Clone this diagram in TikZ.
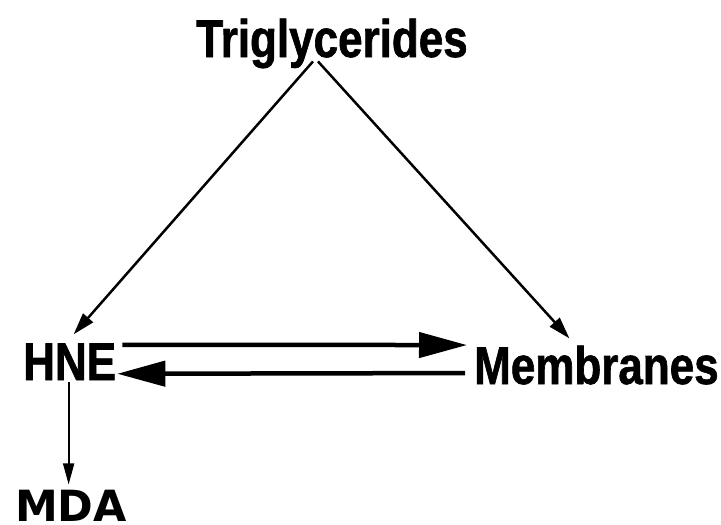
\documentclass[tikz,border=0pt]{standalone}
\usepackage{fontspec}
\usetikzlibrary{arrows.meta,calc}
\newfontfamily\lblfont[FakeStretch=0.83,FakeBold=1.2]{Liberation Sans}
\newfontfamily\mdafont{DejaVu Sans}
\begin{document}
\begin{tikzpicture}[x=1pt,y=-1pt,
  lbl/.style={inner sep=0pt,font=\lblfont\bfseries\fontsize{53}{60}\selectfont},
  mdalbl/.style={inner sep=0pt,font=\mdafont\bfseries\fontsize{43}{50}\selectfont},
  diag/.style={line width=2.5pt,-{Triangle[length=22pt,width=13pt]}},
  thick arrow/.style={line width=4.5pt,-{Triangle[length=48pt,width=25pt]}},
  down/.style={line width=1.8pt,-{Triangle[length=21pt,width=11pt]}}]
\useasboundingbox[fill=white] (0,0) rectangle (721,525);
\node[lbl,anchor=base] (tri) at (332,57) {Triglycerides};
\node[lbl,anchor=base west] (hne) at (23,380) {HNE};
\node[lbl,anchor=base west] (mem) at (474,384) {Membranes};
\node[mdalbl,anchor=base west] (mda) at (15,521) {MDA};
\draw[diag] ([xshift=-19pt,yshift=7pt]tri.south) -- ([xshift=4pt,yshift=9pt]hne.north);
\draw[diag] ([xshift=-14pt,yshift=7pt]tri.south) -- ([xshift=-27pt,yshift=7pt]mem.north);
\draw[thick arrow] ([xshift=6pt,yshift=17pt]hne.east) -- ([xshift=-7pt,yshift=20pt]mem.west);
\draw[thick arrow] ([xshift=-9pt,yshift=-8pt]mem.west) -- ([xshift=1pt,yshift=-12pt]hne.east);
\draw[down] ([xshift=-1pt,yshift=-2pt]hne.south) -- ($([xshift=-1pt]hne.south |- mda.north)+(0,-5)$);
\end{tikzpicture}
\end{document}
